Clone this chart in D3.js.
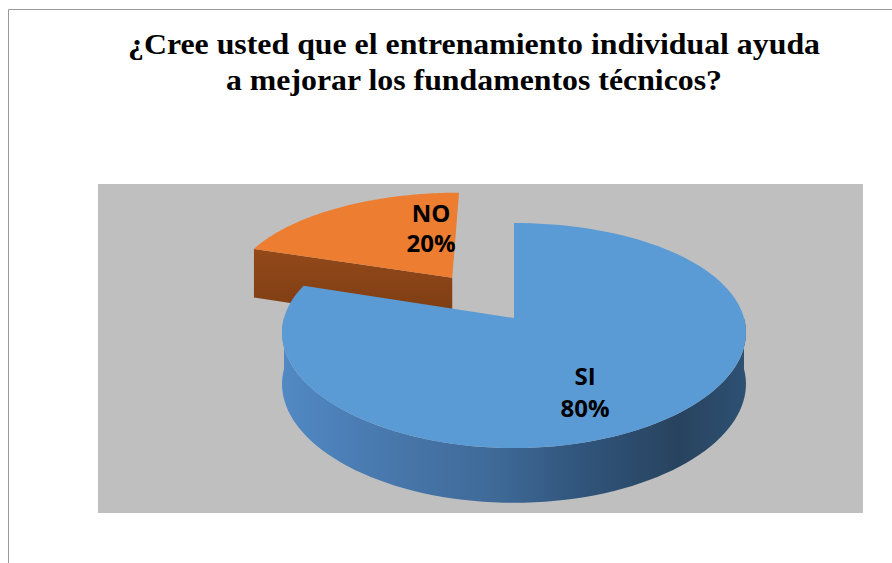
<!DOCTYPE html>
<html>
<head>
<meta charset="utf-8">
<script src="https://cdn.jsdelivr.net/npm/d3@7"></script>
<style>
  html, body { margin: 0; padding: 0; background: #ffffff; }
  svg { display: block; }
  .title { font-family: "Liberation Serif", "Times New Roman", serif; font-weight: 700; }
  .lbl { font-family: "Open Sans", "Noto Sans", sans-serif; font-weight: 700; }
</style>
</head>
<body>
<svg id="chart" width="892" height="563"></svg>
<script>
// ---- data ----
const titleLines = [
  "¿Cree usted que el entrenamiento individual ayuda",
  "a mejorar los fundamentos técnicos?"
];
const categories = ["SI", "NO"];
const values = [80, 20];
const explode = [0, 0.48];            // radial offset of each slice (fraction of radius)
const topColors = ["#5b9bd5", "#ed7d31"];

// ---- layout ----
const W = 892, H = 563;
const svg = d3.select("#chart");
const defs = svg.append("defs");

// outer frame (top and left edges)
svg.append("line").attr("x1", 8.5).attr("y1", 9.5).attr("x2", W).attr("y2", 9.5)
  .attr("stroke", "#9a9a9a").attr("stroke-width", 1);
svg.append("line").attr("x1", 8.5).attr("y1", 9.5).attr("x2", 8.5).attr("y2", H)
  .attr("stroke", "#9a9a9a").attr("stroke-width", 1);

// title, each line set to its typeset width
const titleWidths = [692, 496];
const title = svg.append("g")
  .attr("class", "title")
  .style("font-size", "30px")
  .attr("fill", "#000");
title.selectAll("text").data(titleLines).join("text")
  .attr("text-anchor", "middle")
  .attr("x", 474)
  .attr("y", (d, i) => 54 + i * 36)
  .attr("textLength", (d, i) => titleWidths[i])
  .attr("lengthAdjust", "spacingAndGlyphs")
  .text(d => d);

// plot area
const plot = { x: 98, y: 184, w: 765, h: 329 };
svg.append("rect")
  .attr("x", plot.x).attr("y", plot.y)
  .attr("width", plot.w).attr("height", plot.h)
  .attr("fill", "#bfbfbf");

// ---- 3D pie projection ----
// u: rightward, v: away from viewer (unit = pie radius); down: 0 top face, 1 bottom face
const P = { cx: 514, cy: 318, sx: 230, sy: 109.8, kx: 0.13, ky: 0.1556, depth: 51, kd: 0.0687 };
function proj(u, v, down) {
  const x = P.cx + P.sx * u / (1 + P.kx * v);
  const y = P.cy - P.sy * v / (1 + P.ky * v) + down * P.depth / (1 + P.kd * v);
  return [x, y];
}

const pie = d3.pie().sort(null).startAngle(0).endAngle(2 * Math.PI).value(d => d);
const arcs = pie(values).map((a, i) => {
  const mid = (a.startAngle + a.endAngle) / 2;
  return {
    ...a, i,
    ox: explode[i] * Math.sin(mid),
    oz: explode[i] * Math.cos(mid)
  };
});

const line = d3.line();
function rim(a, t, down) {
  return proj(a.ox + Math.sin(t), a.oz + Math.cos(t), down);
}
function apex(a, down) {
  return proj(a.ox, a.oz, down);
}
function arcPoints(a, t0, t1, down, n) {
  const pts = [];
  for (let k = 0; k <= n; k++) {
    pts.push(rim(a, t0 + (t1 - t0) * k / n, down));
  }
  return pts;
}

// gradients for side surfaces
const sideGrad = defs.append("linearGradient").attr("id", "sideBlue")
  .attr("gradientUnits", "userSpaceOnUse")
  .attr("x1", 283).attr("y1", 0).attr("x2", 748).attr("y2", 0);
[[0, "#5189c4"], [0.22, "#4878ad"], [0.45, "#3f6a98"], [0.65, "#30547a"],
 [0.85, "#28435f"], [1, "#2e5173"]].forEach(([o, c]) =>
  sideGrad.append("stop").attr("offset", o).attr("stop-color", c));

const brownGrad = defs.append("linearGradient").attr("id", "sideOrange")
  .attr("x1", 0).attr("y1", 0).attr("x2", 0).attr("y2", 1);
[[0, "#93491a"], [1, "#7a3b12"]].forEach(([o, c]) =>
  brownGrad.append("stop").attr("offset", o).attr("stop-color", c));
const sideFills = ["url(#sideBlue)", "url(#sideOrange)"];

const gPie = svg.append("g");
const eps = 1e-6;

// farther slices first
arcs.slice().sort((a, b) => b.oz - a.oz).forEach(a => {
  const g = gPie.append("g");
  // outer curved wall, front-facing part only
  const t0 = Math.max(a.startAngle, Math.PI / 2);
  const t1 = Math.min(a.endAngle, 3 * Math.PI / 2);
  if (t1 > t0) {
    const top = arcPoints(a, t0, t1, 0, 80);
    const bottom = arcPoints(a, t0, t1, 1, 80).reverse();
    g.append("path").attr("d", line(top.concat(bottom)) + "Z")
      .attr("fill", sideFills[a.i]);
  }
  // radial cut faces that face the viewer
  if (Math.sin(a.startAngle) < -eps) {
    const pts = [apex(a, 0), rim(a, a.startAngle, 0), rim(a, a.startAngle, 1), apex(a, 1)];
    g.append("path").attr("d", line(pts) + "Z").attr("fill", sideFills[a.i]);
  }
  if (Math.sin(a.endAngle) > eps) {
    const pts = [apex(a, 0), rim(a, a.endAngle, 0), rim(a, a.endAngle, 1), apex(a, 1)];
    g.append("path").attr("d", line(pts) + "Z").attr("fill", sideFills[a.i]);
  }
  // top face
  const topPts = [apex(a, 0)].concat(arcPoints(a, a.startAngle, a.endAngle, 0, 120));
  g.append("path").attr("d", line(topPts) + "Z").attr("fill", topColors[a.i]);
});

// ---- data labels ----
const total = d3.sum(values);
const labelPos = [[585, 385], [431, 222]];   // baseline of first line, per slice
const labels = svg.append("g")
  .attr("class", "lbl")
  .style("font-size", "24px")
  .attr("fill", "#000")
  .attr("text-anchor", "middle");
arcs.forEach(a => {
  const [x, y] = labelPos[a.i];
  const pct = Math.round(values[a.i] / total * 100) + "%";
  const t = labels.append("text");
  t.append("tspan").attr("x", x).attr("y", y).text(categories[a.i]);
  t.append("tspan").attr("x", x).attr("y", y + (a.i === 0 ? 32 : 30)).text(pct);
});
</script>
</body>
</html>
